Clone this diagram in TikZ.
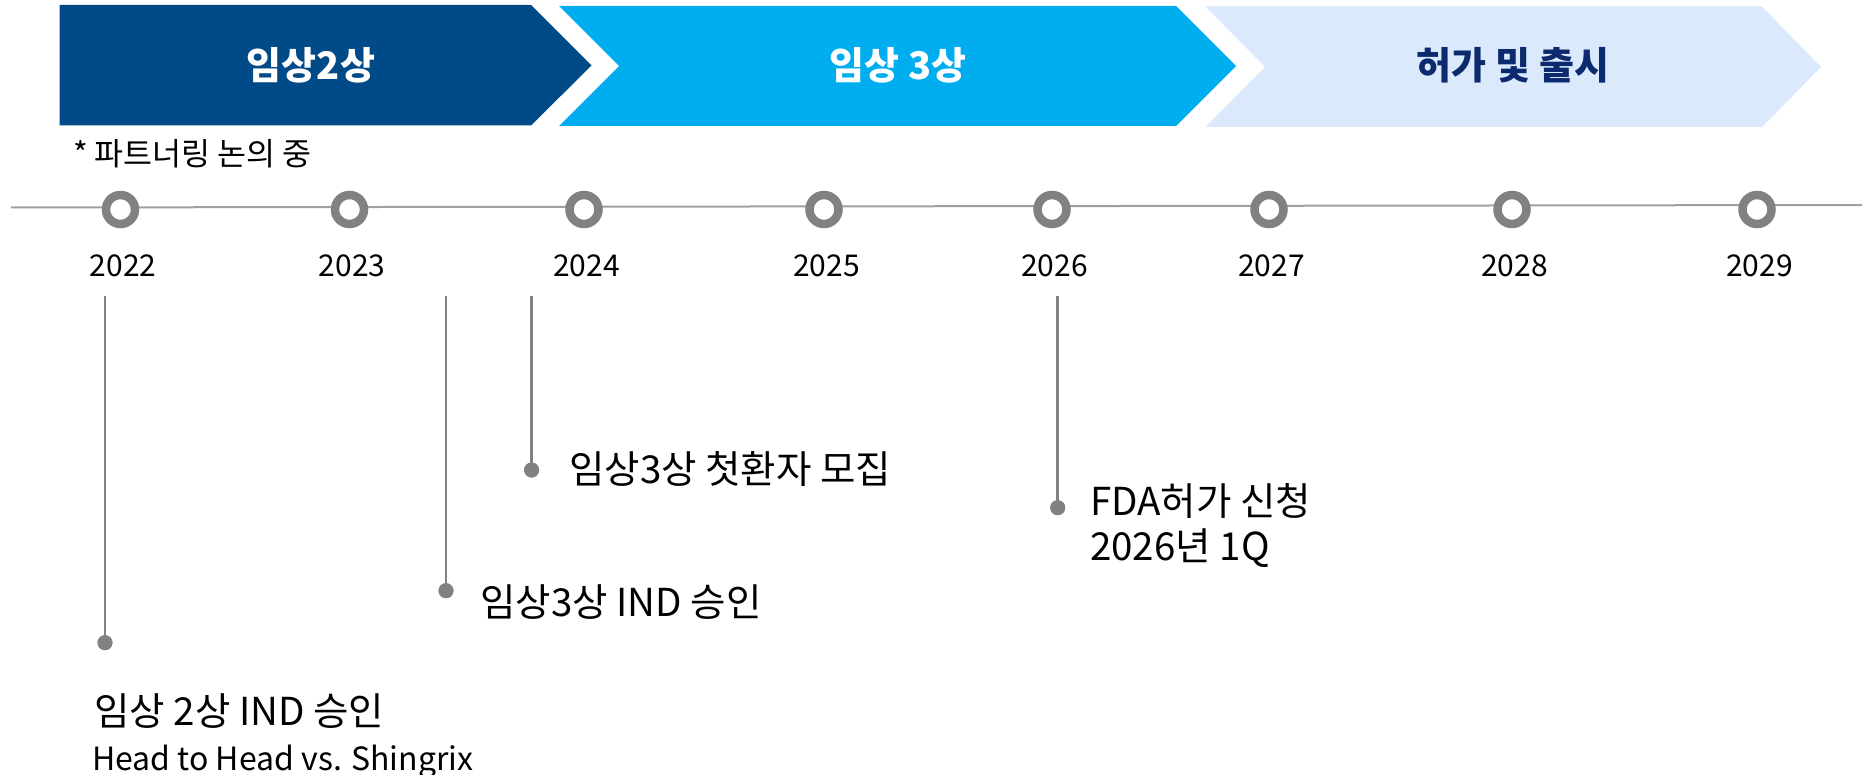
\documentclass[tikz,border=0pt]{standalone}
\usepackage{fontspec}
\setmainfont{Noto Sans CJK KR}
\definecolor{darkblue}{HTML}{004A87}
\definecolor{skyblue}{HTML}{00AEEF}
\definecolor{paleblue}{HTML}{DAEAFC}
\definecolor{navytext}{HTML}{0E2A6E}
\definecolor{ringgray}{HTML}{818181}
\definecolor{axisgray}{HTML}{A0A0A0}
\begin{document}
\begin{tikzpicture}[x=1pt,y=-1pt,
  ring/.style={circle, draw=ringgray, line width=8.5pt, fill=white, minimum size=29pt, inner sep=0pt},
  evdot/.style={circle, fill=ringgray, minimum size=15pt, inner sep=0pt},
  year/.style={anchor=base, inner sep=0pt, font=\fontsize{30}{36}\selectfont},
  event/.style={anchor=base west, inner sep=0pt, font=\fontsize{38.5}{45}\selectfont},
  phasetext/.style={anchor=base, inner sep=0pt, font=\fontsize{38}{44}\selectfont\bfseries},
  stem/.style={draw=ringgray, line width=2.5pt},
  axisline/.style={draw=axisgray, line width=2pt}
]
\useasboundingbox (0,0) rectangle (1869,775);

% phase chevrons
\fill[darkblue] (59.5,5) -- (531,5) -- (591.5,65.5) -- (531,125.5) -- (59.5,125.5) -- cycle;
\fill[skyblue] (559,6) -- (1176,6) -- (1236,66) -- (1176,126) -- (559,126) -- (619,66) -- cycle;
\fill[paleblue] (1205.5,6.5) -- (1762,6.5) -- (1821,67) -- (1762,127) -- (1205.5,127) -- (1265,67) -- cycle;

\node[phasetext, text=white] (p1) at (311,80) {임상2상};
\node[phasetext, text=white] (p2) at (898,80) {임상 3상};
\node[phasetext, text=navytext] (p3) at (1513,80) {허가 및 출시};

\node[anchor=base west, inner sep=0pt, font=\fontsize{31.5}{36}\selectfont] (note) at (73,166) {* 파트너링 논의 중};

% axis
\coordinate (tl) at (11,207.5);
\coordinate (tr) at (1862,205);
\draw[axisline] (tl) -- (tr);

% rings and years
\foreach \name/\x/\yr in {c1/120.5/2022, c2/349.5/2023, c3/584/2024, c4/824/2025, c5/1052/2026, c6/1269/2027, c7/1512/2028, c8/1757/2029}{
  \node[ring] (\name) at (\x,209.5) {};
  \node[year] (y\name) at (\x+2.5,277) {\yr};
}

% events
\coordinate (s1) at (105,296);
\coordinate (s2) at (446,296);
\coordinate (s3) at (531.6,296);
\coordinate (s4) at (1057.7,296);
\node[evdot] (d1) at (105,642.7) {};
\node[evdot] (d2) at (446,590.7) {};
\node[evdot] (d3) at (531.6,470) {};
\node[evdot] (d4) at (1057.7,507.7) {};
\draw[stem] (s1) -- (d1.center);
\draw[stem] (s2) -- (d2.center);
\draw[stem] (s3) -- (d3.center);
\draw[stem] (s4) -- (d4.center);
\node[evdot] at (d1) {};
\node[evdot] at (d2) {};
\node[evdot] at (d3) {};
\node[evdot] at (d4) {};

\node[event] (e3) at (569,483) {임상3상 첫환자 모집};
\node[event] (e2) at (480,616) {임상3상 IND 승인};
\node[event] (e1) at (94,725) {임상 2상 IND 승인};
\node[anchor=base west, inner sep=0pt, font=\fontsize{32}{38}\selectfont] (e1b) at (92,770) {Head to Head vs. Shingrix};
\node[event] (e4) at (1090,515) {FDA허가 신청};
\node[event] (e4b) at (1090,560) {2026년 1Q};
\end{tikzpicture}
\end{document}
